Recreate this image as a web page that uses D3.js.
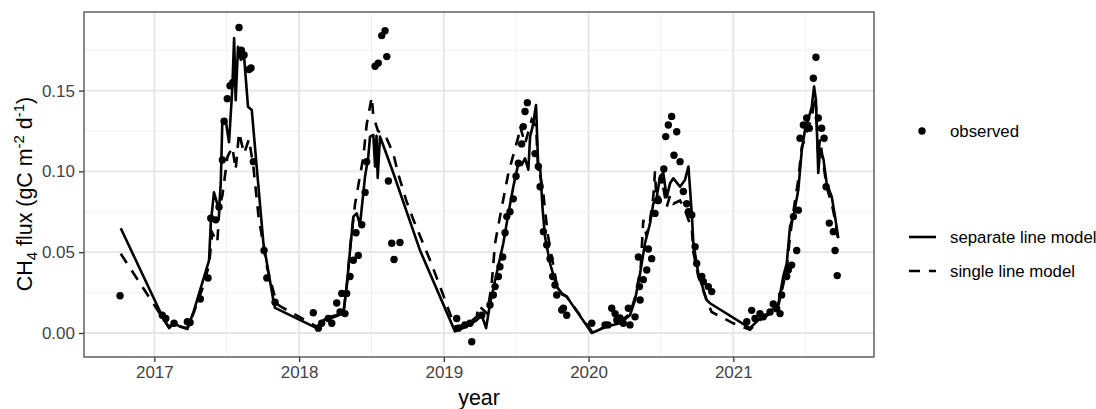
<!DOCTYPE html>
<html lang="en">
<head>
<meta charset="utf-8">
<title>CH4 flux</title>
<script src="https://cdn.jsdelivr.net/npm/d3@7"></script>
<style>
  body { margin: 0; background: #fff; }
  svg { display: block; font-family: "Liberation Sans", Arial, sans-serif; }
</style>
</head>
<body>
<div id="chart"></div>
<script>
// observed daily CH4 flux [decimal year, gC m-2 d-1]
var observed = [
  [2016.763,0.023],
  [2017.055,0.011],[2017.079,0.009],[2017.136,0.006],[2017.228,0.007],[2017.247,0.0065],
  [2017.318,0.021],[2017.371,0.034],[2017.39,0.071],[2017.424,0.070],[2017.447,0.078],
  [2017.47,0.107],[2017.482,0.131],[2017.504,0.145],[2017.523,0.153],[2017.542,0.155],
  [2017.585,0.189],[2017.601,0.175],[2017.62,0.172],[2017.654,0.163],[2017.668,0.164],
  [2017.684,0.106],[2017.758,0.051],[2017.777,0.034],[2017.834,0.019],
  [2018.098,0.0125],[2018.133,0.003],[2018.156,0.006],[2018.202,0.009],[2018.226,0.006],
  [2018.26,0.0186],[2018.283,0.013],[2018.295,0.0245],[2018.317,0.012],[2018.329,0.0245],
  [2018.352,0.035],[2018.375,0.045],[2018.393,0.062],[2018.409,0.048],[2018.433,0.067],
  [2018.456,0.087],[2018.467,0.106],[2018.525,0.165],[2018.547,0.167],[2018.571,0.184],
  [2018.594,0.187],[2018.606,0.171],[2018.617,0.094],[2018.64,0.0555],[2018.656,0.0455],
  [2018.697,0.056],
  [2019.089,0.009],[2019.1,0.003],[2019.146,0.005],[2019.181,0.006],[2019.193,-0.0054],
  [2019.262,0.011],[2019.319,0.0173],[2019.342,0.0235],[2019.354,0.0287],[2019.377,0.035],
  [2019.388,0.041],[2019.407,0.047],[2019.423,0.062],[2019.435,0.072],[2019.457,0.075],
  [2019.48,0.083],[2019.499,0.097],[2019.515,0.105],[2019.538,0.117],[2019.549,0.1277],
  [2019.561,0.137],[2019.577,0.1425],[2019.63,0.111],[2019.653,0.103],[2019.665,0.0905],
  [2019.688,0.0627],[2019.711,0.0545],[2019.734,0.046],[2019.752,0.035],[2019.768,0.0297],
  [2019.78,0.0235],[2019.815,0.0142],[2019.826,0.0153],[2019.849,0.011],
  [2020.022,0.006],[2020.114,0.005],[2020.134,0.005],[2020.16,0.0153],[2020.183,0.012],
  [2020.195,0.008],[2020.217,0.0093],[2020.24,0.006],[2020.275,0.0153],[2020.286,0.005],
  [2020.321,0.010],[2020.344,0.047],[2020.356,0.0204],[2020.352,0.0287],[2020.378,0.033],
  [2020.402,0.039],[2020.413,0.052],[2020.436,0.046],[2020.459,0.074],[2020.482,0.082],
  [2020.505,0.0947],[2020.52,0.1015],[2020.533,0.1215],[2020.551,0.1287],[2020.574,0.134],
  [2020.609,0.1245],[2020.59,0.110],[2020.632,0.106],[2020.655,0.0875],[2020.678,0.080],
  [2020.69,0.075],[2020.713,0.073],[2020.736,0.0534],[2020.747,0.043],[2020.782,0.035],
  [2020.793,0.0317],[2020.827,0.0287],[2020.851,0.0256],
  [2021.093,0.007],[2021.127,0.014],[2021.15,0.009],[2021.184,0.012],[2021.207,0.010],
  [2021.254,0.013],[2021.276,0.018],[2021.3,0.015],[2021.323,0.012],[2021.334,0.0235],
  [2021.369,0.035],[2021.38,0.039],[2021.403,0.042],[2021.438,0.051],[2021.415,0.072],
  [2021.449,0.076],[2021.461,0.1205],[2021.484,0.1287],[2021.507,0.133],[2021.525,0.1267],
  [2021.553,0.1576],[2021.571,0.1706],[2021.587,0.133],[2021.61,0.1267],[2021.627,0.1205],
  [2021.641,0.0905],[2021.663,0.068],[2021.691,0.0627],[2021.703,0.051],[2021.718,0.0355]
];

// separate line model
var separateModel = [
  [2016.768,0.0648],[2017.067,0.008],[2017.102,0.003],[2017.136,0.006],[2017.178,0.004],
  [2017.228,0.0025],[2017.274,0.014],[2017.378,0.045],[2017.39,0.068],[2017.412,0.087],
  [2017.447,0.076],[2017.459,0.093],[2017.47,0.132],[2017.492,0.132],[2017.516,0.118],
  [2017.539,0.152],[2017.551,0.1825],[2017.562,0.144],[2017.578,0.177],[2017.597,0.169],
  [2017.62,0.171],[2017.647,0.14],[2017.673,0.138],[2017.707,0.103],[2017.753,0.056],
  [2017.822,0.0204],[2017.834,0.0155],
  [2018.122,0.003],[2018.168,0.008],[2018.214,0.010],[2018.306,0.012],[2018.329,0.0287],
  [2018.352,0.051],[2018.375,0.072],[2018.398,0.074],[2018.421,0.067],[2018.456,0.097],
  [2018.478,0.109],[2018.49,0.1215],[2018.513,0.1225],[2018.525,0.103],[2018.535,0.122],
  [2018.543,0.096],[2018.559,0.1215],[2018.582,0.116],[2018.651,0.099],[2018.836,0.051],
  [2019.077,0.001],[2019.158,0.004],[2019.227,0.008],[2019.262,0.011],[2019.292,0.003],
  [2019.319,0.018],[2019.365,0.037],[2019.411,0.0555],[2019.446,0.074],[2019.48,0.0905],
  [2019.515,0.105],[2019.538,0.104],[2019.561,0.108],[2019.584,0.101],[2019.596,0.1215],
  [2019.614,0.128],[2019.637,0.141],[2019.653,0.101],[2019.665,0.103],[2019.683,0.076],
  [2019.699,0.0596],[2019.734,0.043],[2019.78,0.0287],[2019.815,0.0245],[2019.849,0.0225],
  [2020.022,0.0],[2020.125,0.004],[2020.217,0.006],[2020.286,0.011],[2020.321,0.0204],
  [2020.356,0.037],[2020.39,0.0555],[2020.425,0.068],[2020.447,0.080],[2020.471,0.084],
  [2020.494,0.097],[2020.516,0.099],[2020.54,0.084],[2020.563,0.0926],[2020.586,0.0957],
  [2020.632,0.0905],[2020.666,0.0947],[2020.69,0.103],[2020.713,0.074],[2020.724,0.0555],
  [2020.758,0.037],[2020.816,0.0204],[2020.839,0.0184],
  [2021.115,0.003],[2021.184,0.009],[2021.254,0.013],[2021.311,0.018],[2021.345,0.035],
  [2021.369,0.043],[2021.392,0.066],[2021.415,0.072],[2021.449,0.0885],[2021.473,0.113],
  [2021.495,0.1256],[2021.518,0.132],[2021.542,0.14],[2021.558,0.1525],[2021.571,0.144],
  [2021.587,0.099],[2021.599,0.113],[2021.622,0.108],[2021.645,0.0926],[2021.68,0.0843],
  [2021.703,0.072],[2021.725,0.0586]
];

// single line model
var singleModel = [
  [2016.768,0.049],[2017.06,0.009],[2017.10,0.004],[2017.136,0.006],[2017.178,0.004],
  [2017.228,0.003],[2017.274,0.013],[2017.33,0.027],[2017.378,0.042],[2017.40,0.062],
  [2017.435,0.056],[2017.45,0.078],[2017.47,0.085],[2017.505,0.109],[2017.539,0.115],
  [2017.562,0.101],[2017.585,0.124],[2017.62,0.111],[2017.654,0.12],[2017.684,0.103],
  [2017.72,0.072],[2017.78,0.04],[2017.846,0.018],[2017.88,0.016],
  [2018.122,0.004],[2018.168,0.007],[2018.214,0.009],[2018.306,0.012],[2018.33,0.03],
  [2018.355,0.055],[2018.387,0.080],[2018.444,0.109],[2018.467,0.129],[2018.502,0.146],
  [2018.513,0.134],[2018.545,0.125],[2018.594,0.1225],[2018.651,0.111],[2018.686,0.098],
  [2018.744,0.081],[2018.79,0.070],[2018.847,0.0575],[2018.905,0.045],[2018.974,0.0287],
  [2019.043,0.012],[2019.077,0.004],
  [2019.158,0.005],[2019.227,0.01],[2019.24,0.017],[2019.3,0.012],[2019.33,0.03],
  [2019.354,0.0555],[2019.388,0.072],[2019.446,0.099],[2019.515,0.1215],[2019.527,0.128],
  [2019.561,0.117],[2019.607,0.132],[2019.637,0.128],[2019.65,0.105],[2019.685,0.0885],
  [2019.699,0.076],[2019.72,0.06],[2019.75,0.045],[2019.78,0.03],[2019.815,0.024],
  [2019.849,0.0225],
  [2020.022,0.001],[2020.125,0.004],[2020.217,0.007],[2020.286,0.012],[2020.321,0.022],
  [2020.36,0.04],[2020.378,0.07],[2020.40,0.06],[2020.425,0.07],[2020.447,0.084],
  [2020.459,0.1],[2020.47,0.08],[2020.494,0.086],[2020.516,0.09],[2020.54,0.078],
  [2020.563,0.085],[2020.586,0.08],[2020.632,0.082],[2020.666,0.076],[2020.69,0.070],
  [2020.713,0.065],[2020.724,0.05],[2020.758,0.035],[2020.816,0.02],[2020.85,0.013],
  [2021.0,0.006],[2021.115,0.002],
  [2021.184,0.008],[2021.254,0.012],[2021.311,0.017],[2021.345,0.03],[2021.369,0.04],
  [2021.392,0.06],[2021.415,0.075],[2021.449,0.095],[2021.473,0.115],[2021.495,0.12],
  [2021.518,0.128],[2021.542,0.132],[2021.558,0.146],[2021.571,0.14],[2021.587,0.11],
  [2021.599,0.12],[2021.622,0.105],[2021.645,0.09],[2021.68,0.08],[2021.703,0.07],
  [2021.725,0.057]
];

var xTicks = [2017, 2018, 2019, 2020, 2021];
var xMinor = [2017.5, 2018.5, 2019.5, 2020.5, 2021.5];
var yTicks = [0, 0.05, 0.10, 0.15];
var yMinor = [0.025, 0.075, 0.125, 0.175];
var legendLabels = ["observed", "separate line model", "single line model"];

var W = 1096, H = 409;
var panel = {left: 84, right: 874, top: 12, bottom: 357};
var lineW = 2.6, dotR = 3.7, dashes = "11,9";

var svg = d3.select("#chart").append("svg")
  .attr("width", W).attr("height", H);

var x = d3.scaleLinear()
  .domain([2016.514, 2021.972])
  .range([panel.left, panel.right]);

var y = d3.scaleLinear()
  .domain([-0.01485, 0.1986])
  .range([panel.bottom, panel.top]);

// grid
var grid = svg.append("g");
grid.selectAll(".xmin").data(xMinor).enter().append("line")
  .attr("x1", d => x(d)).attr("x2", d => x(d))
  .attr("y1", panel.top).attr("y2", panel.bottom)
  .attr("stroke", "#f2f2f2").attr("stroke-width", 1);
grid.selectAll(".ymin").data(yMinor).enter().append("line")
  .attr("x1", panel.left).attr("x2", panel.right)
  .attr("y1", d => y(d)).attr("y2", d => y(d))
  .attr("stroke", "#f2f2f2").attr("stroke-width", 1);
grid.selectAll(".xmaj").data(xTicks).enter().append("line")
  .attr("x1", d => x(d)).attr("x2", d => x(d))
  .attr("y1", panel.top).attr("y2", panel.bottom)
  .attr("stroke", "#e6e6e6").attr("stroke-width", 1.8);
grid.selectAll(".ymaj").data(yTicks).enter().append("line")
  .attr("x1", panel.left).attr("x2", panel.right)
  .attr("y1", d => y(d)).attr("y2", d => y(d))
  .attr("stroke", "#e6e6e6").attr("stroke-width", 1.8);

// axes
var xAxis = svg.append("g")
  .attr("transform", "translate(0," + panel.bottom + ")")
  .call(d3.axisBottom(x).tickValues(xTicks).tickFormat(d3.format("d")).tickSize(5).tickPadding(4));
var yAxis = svg.append("g")
  .attr("transform", "translate(" + panel.left + ",0)")
  .call(d3.axisLeft(y).tickValues(yTicks).tickFormat(d3.format(".2f")).tickSize(5).tickPadding(4));
[xAxis, yAxis].forEach(function(a) {
  a.select(".domain").remove();
  a.selectAll(".tick line").attr("stroke", "#333").attr("stroke-width", 1.3);
  a.selectAll(".tick text").attr("fill", "#444").style("font-size", "17px")
    .style("font-family", "'Liberation Sans', Arial, sans-serif");
});

// model lines
var line = d3.line().x(d => x(d[0])).y(d => y(d[1]));
svg.append("path").datum(singleModel)
  .attr("d", line).attr("fill", "none").attr("stroke", "#000")
  .attr("stroke-width", lineW).attr("stroke-dasharray", dashes);
svg.append("path").datum(separateModel)
  .attr("d", line).attr("fill", "none").attr("stroke", "#000")
  .attr("stroke-width", lineW).attr("stroke-linejoin", "round");

// observed points
svg.append("g").selectAll("circle").data(observed).enter().append("circle")
  .attr("cx", d => x(d[0])).attr("cy", d => y(d[1]))
  .attr("r", dotR).attr("fill", "#000");

// panel border
svg.append("rect")
  .attr("x", panel.left).attr("y", panel.top)
  .attr("width", panel.right - panel.left).attr("height", panel.bottom - panel.top)
  .attr("fill", "none").attr("stroke", "#555").attr("stroke-width", 1.4);

// axis titles
svg.append("text")
  .attr("x", (panel.left + panel.right) / 2).attr("y", 405)
  .attr("text-anchor", "middle").style("font-size", "21.4px").text("year");

var yt = svg.append("text")
  .attr("transform", "translate(32,194) rotate(-90)")
  .attr("text-anchor", "middle").style("font-size", "21.4px");
yt.append("tspan").text("CH");
yt.append("tspan").attr("dy", 5).style("font-size", "15px").text("4");
yt.append("tspan").attr("dy", -5).text(" flux (gC m");
yt.append("tspan").attr("dy", -8).style("font-size", "15px").text("-2");
yt.append("tspan").attr("dy", 8).text(" d");
yt.append("tspan").attr("dy", -8).style("font-size", "15px").text("-1");
yt.append("tspan").attr("dy", 8).text(")");

// legend
var lg = svg.append("g").style("font-size", "16.8px");
lg.append("circle").attr("cx", 922).attr("cy", 131).attr("r", dotR).attr("fill", "#000");
lg.append("text").attr("x", 950).attr("y", 137).text(legendLabels[0]);
lg.append("line").attr("x1", 909).attr("x2", 936).attr("y1", 237).attr("y2", 237)
  .attr("stroke", "#000").attr("stroke-width", lineW);
lg.append("text").attr("x", 950).attr("y", 243).text(legendLabels[1]);
lg.append("line").attr("x1", 909).attr("x2", 936).attr("y1", 271).attr("y2", 271)
  .attr("stroke", "#000").attr("stroke-width", lineW).attr("stroke-dasharray", dashes);
lg.append("text").attr("x", 950).attr("y", 277).text(legendLabels[2]);
</script>
</body>
</html>
